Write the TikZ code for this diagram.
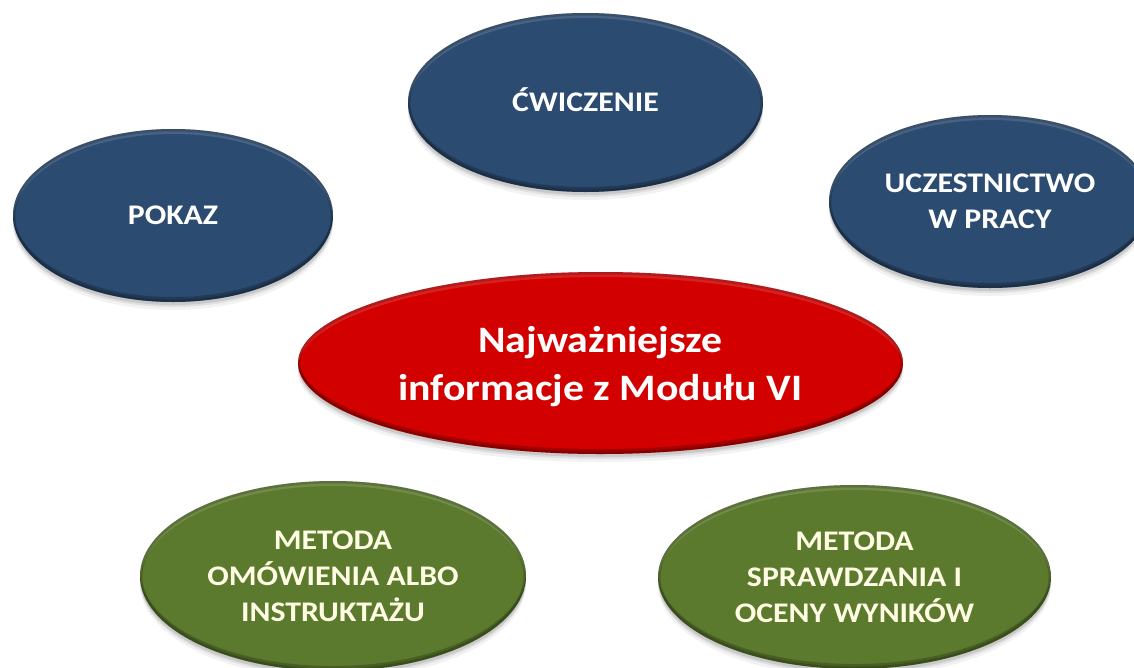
\documentclass[tikz,border=0pt]{standalone}
\usepackage{fontspec}
\setmainfont{Carlito}[FakeStretch=1.12]
\usetikzlibrary{shapes.geometric}
\definecolor{bblue}{HTML}{2C4B70}
\definecolor{bred}{HTML}{D30000}
\definecolor{bgreen}{HTML}{5C7A2E}
\definecolor{gtext}{HTML}{FFFCE4}
\tikzset{
  bubble/.style n args={3}{ellipse, inner sep=0pt, minimum width=#1, minimum height=#2,
    fill=#3, align=center, text=white,
    font=\bfseries\fontsize{28.4}{36}\selectfont,
    preaction={fill=black, opacity=0.05, transform canvas={yshift=-8pt}},
    preaction={fill=black, opacity=0.07, transform canvas={yshift=-5pt}},
    preaction={fill=black, opacity=0.10, transform canvas={yshift=-3pt}},
    path picture={
      \fill[white, opacity=0.13, even odd rule]
        (path picture bounding box.center) ellipse [x radius=#1/2, y radius=#2/2]
        ([yshift=-5pt]path picture bounding box.center) ellipse [x radius=#1/2, y radius=#2/2];
      \fill[black, opacity=0.22, even odd rule]
        (path picture bounding box.center) ellipse [x radius=#1/2, y radius=#2/2]
        ([yshift=5pt]path picture bounding box.center) ellipse [x radius=#1/2, y radius=#2/2];
      \draw[black, opacity=0.18, line width=5pt]
        (path picture bounding box.center) ellipse [x radius=#1/2, y radius=#2/2];
    }},
  single/.style={text height=18.3pt, text depth=0pt},
  bigtext/.style={font=\bfseries\fontsize{37.3}{48}\selectfont},
  greentext/.style={text=gtext},
}
\begin{document}
\begin{tikzpicture}[x=1pt, y=-1pt]
  \useasboundingbox (0,0) rectangle (1134,667);
  \fill[white] (0,0) rectangle (1134,667);
  \clip (0,0) rectangle (1134,667);

  \node[bubble={320pt}{173pt}{bblue}, single] (pokaz) at (173,215.5) {POKAZ};
  \node[bubble={355pt}{179pt}{bblue}, single] (cwiczenie) at (585.5,102.5) {ĆWICZENIE};
  \node[bubble={322pt}{173pt}{bblue}] (uczest) at (990,201.5) {UCZESTNICTWO\\W PRACY};
  \node[bubble={605pt}{182pt}{bred}, bigtext] (main) at (600.5,363)
    {Najważniejsze\\\raisebox{0pt}[\height][0pt]{informacje z Modułu VI}};
  \node[bubble={386pt}{190pt}{bgreen}, greentext] (omow) at (333,576)
    {METODA\\OMÓWIENIA ALBO\\INSTRUKTAŻU};
  \node[bubble={393pt}{184pt}{bgreen}, greentext] (spraw) at (854.5,577)
    {METODA\\SPRAWDZANIA I\\OCENY WYNIKÓW};
\end{tikzpicture}
\end{document}
